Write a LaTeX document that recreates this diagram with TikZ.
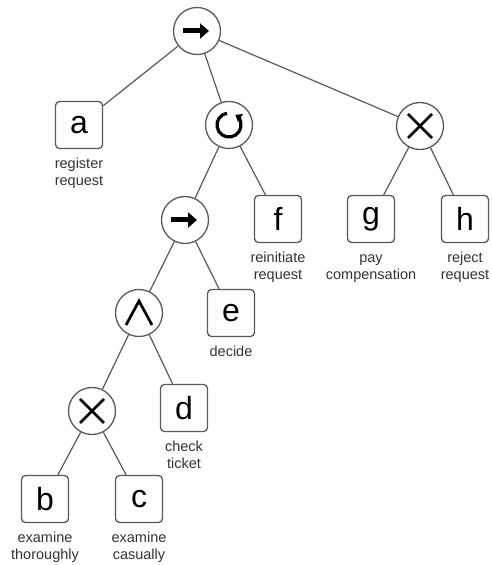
\documentclass[tikz,border=0pt]{standalone}
\usepackage{fontspec}
\setmainfont{Liberation Sans}
\usetikzlibrary{arrows.meta,positioning}

\begin{document}
\begin{tikzpicture}[x=1pt,y=1pt,
  op/.style={circle,draw=black!65,line width=1.3pt,minimum size=47pt,inner sep=0pt},
  act/.style={rectangle,rounded corners=4pt,draw=black!65,line width=1.3pt,
    minimum size=47pt,inner sep=0pt,font=\fontsize{32}{32}\selectfont},
  lbl/.style={align=center,inner sep=0pt,text=black!80,font=\fontsize{14.5}{17}\selectfont},
  edge/.style={black!65,line width=1.2pt},
  sym/.style={line width=2.7pt}]
  \useasboundingbox (0,0) rectangle (492,565);
  % operators
  \node[op] (seqTop) at (197,534) {};
  \node[op] (loopOp) at (229,440) {};
  \node[op] (xorTop) at (420,439) {};
  \node[op] (seqMid) at (185,345) {};
  \node[op] (andOp)  at (139,252) {};
  \node[op] (xorLow) at (92,154) {};
  % activities
  \node[act] (a) at (79,440) {a};
  \node[act] (f) at (278,346) {f};
  \node[act] (g) at (371,346) {g};
  \node[act] (h) at (465,346) {h};
  \node[act] (e) at (231,252) {e};
  \node[act] (d) at (184,157) {d};
  \node[act] (b) at (45,66) {b};
  \node[act] (c) at (139,66) {c};
  % activity names
  \node[lbl,below=7.4pt of a] (aName) {\strut register\\request};
  \node[lbl,below=7.4pt of f] (fName) {\strut reinitiate\\request};
  \node[lbl,below=7.4pt of g] (gName) {\strut pay\\compensation};
  \node[lbl,below=7.4pt of h] (hName) {\strut reject\\request};
  \node[lbl,below=7.4pt of e] (eName) {\strut decide};
  \node[lbl,below=7.4pt of d] (dName) {\strut check\\ticket};
  \node[lbl,below=7.4pt of b] (bName) {\strut examine\\thoroughly};
  \node[lbl,below=7.4pt of c] (cName) {\strut examine\\casually};
  \foreach \p/\c in {seqTop/a,seqTop/loopOp,seqTop/xorTop,loopOp/seqMid,loopOp/f,
    xorTop/g,xorTop/h,seqMid/andOp,seqMid/e,andOp/xorLow,andOp/d,xorLow/b,xorLow/c}
    \draw[edge] (\p) -- (\c);
  % operator symbols
  \foreach \n in {seqTop,seqMid}
    \draw[line width=5pt,-{Triangle[length=9pt,width=15pt]}]
      ([xshift=-14pt]\n.center) -- ([xshift=12pt]\n.center);
  \draw[line width=3.2pt,-{Triangle[length=6pt,width=9pt]}]
    ([shift={(100:12)}]loopOp.center) arc[start angle=100,end angle=418,radius=12];
  \foreach \n in {xorTop,xorLow} {
    \draw[sym] ([shift={(-12,-12)}]\n.center) -- ([shift={(12,12)}]\n.center);
    \draw[sym] ([shift={(-12,12)}]\n.center) -- ([shift={(12,-12)}]\n.center);
  }
  \draw[sym,miter limit=10] ([shift={(-13,-12)}]andOp.center)
    -- ([shift={(0,12)}]andOp.center) -- ([shift={(13,-12)}]andOp.center);
\end{tikzpicture}
\end{document}
